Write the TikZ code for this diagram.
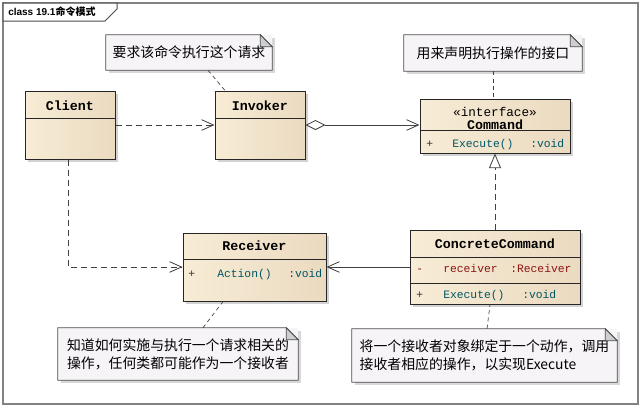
\documentclass[tikz,border=0pt]{standalone}
\usepackage{fontspec}
\setmainfont{Liberation Serif}
\setsansfont{Liberation Sans}
\setmonofont{Liberation Mono}
\newfontfamily\cjk{Noto Sans CJK SC}
\usetikzlibrary{arrows.meta, shadows}

\definecolor{clsleft}{RGB}{248,236,214}
\definecolor{clsmid}{RGB}{252,245,232}
\definecolor{clsright}{RGB}{234,218,192}
\definecolor{notefill}{RGB}{247,244,247}
\definecolor{foldfill}{RGB}{205,205,210}
\definecolor{opcol}{RGB}{0,85,100}
\definecolor{attrcol}{RGB}{140,20,20}
\definecolor{framegray}{RGB}{130,130,130}

\newcommand{\notefold}[1]{%
  \draw[notebd] (#1.north west) -- ([xshift=-9pt]#1.north east) -- ([yshift=-9pt]#1.north east)
    -- (#1.south east) -- (#1.south west) -- cycle;
  \filldraw[notebd, fill=foldfill] ([xshift=-9pt]#1.north east) -- ([xshift=-9pt,yshift=-9pt]#1.north east)
    -- ([yshift=-9pt]#1.north east) -- cycle;}

\begin{document}
\begin{tikzpicture}[x=0.75pt, y=-0.75pt,
  cls/.style={draw=black!85, line width=0.75pt, left color=clsleft, middle color=clsmid, right color=clsright,
    drop shadow={shadow xshift=2.25pt, shadow yshift=-2.25pt, fill=black!35}},
  clsline/.style={draw=black!85, line width=0.75pt},
  cname/.style={inner sep=0pt, anchor=base, font=\ttfamily\bfseries\fontsize{10}{12}\selectfont},
  stereo/.style={inner sep=0pt, anchor=base, font=\ttfamily\fontsize{9.5}{11}\selectfont},
  member/.style={inner sep=0pt, anchor=base west, font=\ttfamily\fontsize{8.5}{10}\selectfont},
  note/.style={fill=notefill, align=left, inner sep=0pt, font=\cjk\fontsize{10.4}{13.3}\selectfont,
    drop shadow={shadow xshift=2.25pt, shadow yshift=-2.25pt, fill=black!30}},
  notebd/.style={draw=black!70, line width=0.6pt},
  notelink/.style={draw=black!75, line width=0.5pt, dash pattern=on 3pt off 2.5pt},
  dep/.style={draw=black!75, line width=0.6pt, dash pattern=on 4.5pt off 3pt,
    -{Straight Barb[length=9pt, width=8pt, line width=0.6pt]}},
  nav/.style={draw=black!75, line width=0.6pt, -{Straight Barb[length=9pt, width=8pt, line width=0.6pt]}},
  assoc/.style={draw=black!75, line width=0.6pt,
    {Diamond[open, length=15pt, width=7.5pt, line width=0.6pt]}-{Straight Barb[length=9pt, width=8pt, line width=0.6pt]}},
  real/.style={draw=black!75, line width=0.6pt, dash pattern=on 4.5pt off 3pt,
    -{Triangle[length=11pt, width=9pt, fill=white, line width=0.6pt]}}]

\useasboundingbox (0,0) rectangle (643,408);
\draw[framegray, line width=1.2pt] (3,3) rectangle (638,404);
\draw[black!70, line width=0.75pt, fill=white] (3,3) -- (117,3) -- (117,9) -- (105,21) -- (3,21) -- cycle;
\node[anchor=west, inner sep=0pt, font=\sffamily\bfseries\fontsize{7.5}{9}\selectfont] (title) at (8,12)
  {class 19.1{\cjk\bfseries 命令模式}};

\node[cls, minimum width=67.5pt, minimum height=51pt] (client) at (70,125) {};
\node[cls, minimum width=67.5pt, minimum height=51pt] (invoker) at (260,125) {};
\node[cls, minimum width=112.5pt, minimum height=40.5pt] (command) at (495,126) {};
\node[cls, minimum width=107.25pt, minimum height=51pt] (receiver) at (254.5,267) {};
\node[cls, minimum width=127.5pt, minimum height=55.5pt] (concrete) at (495,267) {};

\draw[clsline] (client.west |- 0,118) -- (client.east |- 0,118);
\draw[clsline] (invoker.west |- 0,118) -- (invoker.east |- 0,118);
\draw[clsline] (command.west |- 0,130) -- (command.east |- 0,130);
\draw[clsline] (receiver.west |- 0,259) -- (receiver.east |- 0,259);
\draw[clsline] (concrete.west |- 0,257) -- (concrete.east |- 0,257);
\draw[clsline] (concrete.west |- 0,283) -- (concrete.east |- 0,283);

\node[cname] (clientname) at (70,110) {Client};
\node[cname] (invokername) at (260,110) {Invoker};
\node[stereo] (cmdstereo) at (495,116) {«interface»};
\node[cname] (cmdname) at (495,129) {Command};
\node[member, black!80] (cmdvis) at (426,147) {+};
\node[member, opcol] (cmdop) at (452,147) {Execute()};
\node[member, opcol] (cmdtype) at (530,147) {:void};

\node[cname] (receivername) at (254.5,250) {Receiver};
\node[member, black!80] (rcvvis) at (188,277) {+};
\node[member, opcol] (rcvop) at (217,277) {Action()};
\node[member, opcol] (rcvtype) at (288,277) {:void};

\node[cname] (concretename) at (495,248) {ConcreteCommand};
\node[member, attrcol] (ccattrvis) at (416,272) {-};
\node[member, attrcol] (ccattr) at (443,272) {receiver};
\node[member, attrcol] (ccattrtype) at (510,272) {:Receiver};
\node[member, black!80] (ccopvis) at (416,298) {+};
\node[member, opcol] (ccop) at (443,298) {Execute()};
\node[member, opcol] (ccoptype) at (522,298) {:void};

\node[note, minimum width=124.5pt, minimum height=26.25pt] (note1) at (189,52.5) {要求该命令执行这个请求};
\notefold{note1}
\node[note, minimum width=133.5pt, minimum height=27pt] (note2) at (493,53) {用来声明执行操作的接口};
\notefold{note2}
\node[note, minimum width=180pt, minimum height=39pt] (note3) at (178,354)
  {知道如何实施与执行一个请求相关的\\操作，任何类都可能作为一个接收者};
\notefold{note3}
\node[note, minimum width=198.75pt, minimum height=39.75pt] (note4) at (484.5,355.5)
  {将一个接收者对象绑定于一个动作，调用\\接收者相应的操作，以实现Execute};
\notefold{note4}

\draw[dep] (client.east) -- (invoker.west);
\draw[assoc] (invoker.east) -- (invoker.east -| command.west);
\draw[dep] ([xshift=-1.5pt]client.south) |- (receiver.west);
\draw[nav] (concrete.west) -- (receiver.east);
\draw[real] (concrete.north) -- (command.south);

\draw[notelink] ([xshift=14.25pt]note1.south) -- ([xshift=-26.25pt]invoker.north);
\draw[notelink] (note2.south) -- (note2.south |- command.north);
\draw[notelink] ([xshift=18.75pt]note3.north) -- ([xshift=-23.6pt]receiver.south);
\draw[notelink] ([xshift=1.9pt]note4.north) -- ([xshift=-3.75pt]concrete.south);
\end{tikzpicture}
\end{document}
